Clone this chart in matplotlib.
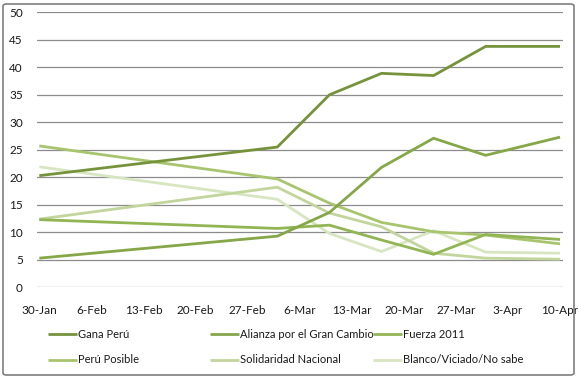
import matplotlib
matplotlib.use("Agg")
import matplotlib.pyplot as plt
from matplotlib.patches import FancyBboxPatch
import datetime as dt

# ---- data ----
dates = ["2011-01-30", "2011-03-03", "2011-03-10", "2011-03-17",
         "2011-03-24", "2011-03-31", "2011-04-10"]
gana_peru = [20.3, 25.5, 35.0, 38.9, 38.5, 43.8, 43.8]
alianza = [5.3, 9.3, 13.6, 21.8, 27.1, 24.0, 27.3]
fuerza_2011 = [12.3, 10.7, 11.3, 8.6, 6.0, 9.6, 8.7]
peru_posible = [25.7, 19.7, 15.3, 11.8, 10.1, 9.5, 7.9]
solidaridad = [12.4, 18.2, 13.5, 11.0, 6.2, 5.3, 5.1]
blanco = [21.9, 16.0, 9.8, 6.5, 10.3, 6.4, 6.2]

series_names = ["Gana Perú", "Alianza por el Gran Cambio", "Fuerza 2011",
                "Perú Posible", "Solidaridad Nacional", "Blanco/Viciado/No sabe"]
tick_dates = ["2011-01-30", "2011-02-06", "2011-02-13", "2011-02-20", "2011-02-27",
              "2011-03-06", "2011-03-13", "2011-03-20", "2011-03-27", "2011-04-03",
              "2011-04-10"]
tick_labels = ["30-Jan", "6-Feb", "13-Feb", "20-Feb", "27-Feb", "6-Mar",
               "13-Mar", "20-Mar", "27-Mar", "3-Apr", "10-Apr"]
y_ticks = [0, 5, 10, 15, 20, 25, 30, 35, 40, 45, 50]

colors = ["#76933C", "#85A748", "#92B554", "#A8C56E", "#C2D59C", "#D8E5C1"]

plt.rcParams["font.family"] = ["Lato", "DejaVu Sans"]

fig = plt.figure(figsize=(5.8, 3.78), dpi=100)
ax = fig.add_axes([36.7 / 580, 1 - 287.3 / 378, (563 - 36.7) / 580, (287.3 - 12.3) / 378])

x = [dt.datetime.strptime(d, "%Y-%m-%d") for d in dates]
all_series = [gana_peru, alianza, fuerza_2011, peru_posible, solidaridad, blanco]
handles = [None] * len(all_series)
for i in range(len(all_series) - 1, -1, -1):
    (ln,) = ax.plot(x, all_series[i], color=colors[i], lw=2.0,
                    solid_joinstyle="miter", solid_capstyle="butt",
                    label=series_names[i], zorder=3 + (len(all_series) - i) * 0.01)
    handles[i] = ln

tx = [dt.datetime.strptime(d, "%Y-%m-%d") for d in tick_dates]
ax.set_xticks(tx)
ax.set_xticklabels(tick_labels)
ax.set_xlim(tx[0] - dt.timedelta(days=0.35), tx[-1] + dt.timedelta(days=0.4))
ax.set_ylim(0, 50)
ax.set_yticks(y_ticks)
ax.set_yticklabels([str(v) for v in y_ticks])
ax.yaxis.grid(True, color="#8C8C8C", lw=0.9)
ax.set_axisbelow(True)
for s in ax.spines.values():
    s.set_visible(False)
ax.tick_params(axis="both", length=0, labelsize=8.5, colors="#1a1a1a")
ax.tick_params(axis="y", pad=10)
ax.tick_params(axis="x", pad=13)

# legend: three columns placed like the reference
col_x = [48 / 580, 210 / 580, 373 / 580]
for c in range(3):
    leg = fig.legend([handles[c], handles[c + 3]], [series_names[c], series_names[c + 3]],
                     loc="upper left", bbox_to_anchor=(col_x[c], 1 - 329 / 378),
                     frameon=False, fontsize=8.0, handlelength=2.6, handletextpad=0.1,
                     borderpad=0, borderaxespad=0, labelspacing=1.3)
    for t in leg.get_texts():
        t.set_color("#1a1a1a")

# chart border
border = FancyBboxPatch((3 / 580, 3 / 378), 571 / 580, 371 / 378,
                        boxstyle="round,pad=0,rounding_size=0.006",
                        transform=fig.transFigure, fill=False,
                        edgecolor="#7F7F7F", lw=1.2)
fig.patches.append(border)

fig.savefig("out.png", dpi=100)
